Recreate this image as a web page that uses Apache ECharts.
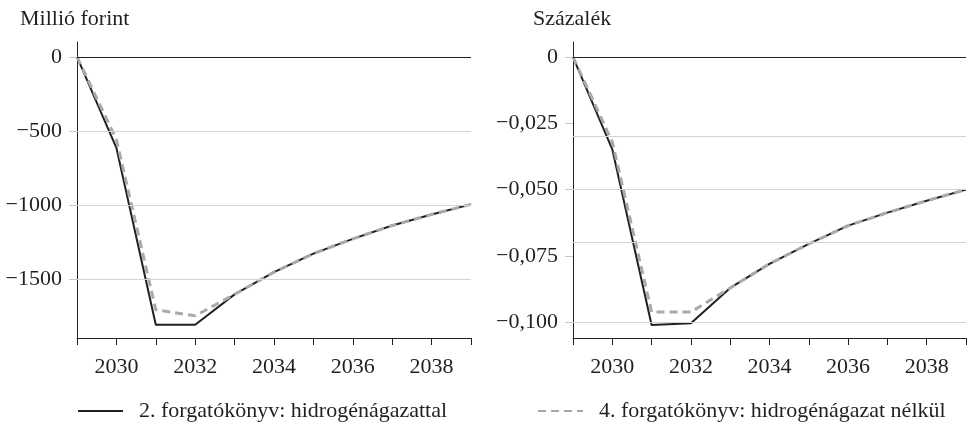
<!DOCTYPE html>
<html>
<head>
<meta charset="utf-8">
<script src="https://cdn.jsdelivr.net/npm/echarts@6/dist/echarts.min.js"></script>
<style>
  html, body { margin: 0; padding: 0; background: #fff; }
  #main { width: 970px; height: 425px; }
</style>
</head>
<body>
<div id="main"></div>
<script>
// évek
var years = [2029, 2030, 2031, 2032, 2033, 2034, 2035, 2036, 2037, 2038, 2039];

// bal panel: millió forint
var huf2 = [0, -615, -1810, -1810, -1605, -1455, -1330, -1230, -1140, -1065, -997];
var huf4 = [0, -560, -1710, -1750, -1605, -1455, -1330, -1230, -1140, -1065, -997];
var hufTicks = [0, -500, -1000, -1500];

// jobb panel: százalék
var pct2 = [0, -0.0348, -0.1011, -0.1004, -0.0871, -0.0780, -0.0705, -0.0636, -0.0587, -0.0542, -0.0500];
var pct4 = [0, -0.0320, -0.0962, -0.0962, -0.0871, -0.0780, -0.0705, -0.0636, -0.0587, -0.0542, -0.0500];
var pctTicks = [0, -0.025, -0.05, -0.075, -0.1];

var name2 = '2. forgatókönyv: hidrogénágazattal';
var name4 = '4. forgatókönyv: hidrogénágazat nélkül';

var FONT = 'Liberation Serif';
var FS = 22;
var TXT = '#231f20';

function pairs(vals) {
  return years.map(function (y, i) { return [y, vals[i]]; });
}

function gridLines(ticks) {
  return {
    silent: true,
    symbol: 'none',
    animation: false,
    label: { show: false },
    data: ticks.map(function (v) {
      return {
        yAxis: v,
        lineStyle: { color: v === 0 ? '#231f20' : '#d4d4d4', width: 1, type: 'solid' }
      };
    })
  };
}

function fmtHuf(v) {
  return v === 0 ? '0' : '\u2212' + Math.abs(v);
}
function fmtPct(v) {
  return v === 0 ? '0' : '\u2212' + Math.abs(v).toFixed(3).replace('.', ',');
}

function xAxis(idx) {
  return {
    type: 'value', gridIndex: idx, min: 2029, max: 2039, interval: 1,
    axisLine: { onZero: false, lineStyle: { color: '#231f20', width: 1 } },
    axisTick: { length: 7, lineStyle: { color: '#231f20' } },
    splitLine: { show: false },
    axisLabel: {
      margin: 18, color: TXT, fontFamily: FONT, fontSize: FS,
      formatter: function (v) { return v % 2 === 0 ? String(v) : ''; }
    }
  };
}

function yAxis(idx, min, max, ticks, fmt) {
  return {
    type: 'value', gridIndex: idx, min: min, max: max,
    axisLine: { show: true, lineStyle: { color: '#231f20', width: 1 } },
    axisTick: { show: true, length: 8, customValues: ticks, lineStyle: { color: '#c8c8c8' } },
    splitLine: { show: false },
    axisLabel: {
      margin: 15, color: TXT, fontFamily: FONT, fontSize: FS,
      customValues: ticks, formatter: fmt
    }
  };
}

function legend(name, left) {
  return {
    data: [name], left: left, top: 400, padding: 0,
    itemWidth: 45, itemHeight: 14, itemGap: 0,
    itemStyle: { opacity: 0 },
    textStyle: { fontFamily: FONT, fontSize: FS, color: TXT, padding: [0, 0, 0, 11] }
  };
}

var chart = echarts.init(document.getElementById('main'));

var option = {
  animation: false,
  backgroundColor: '#fff',
  title: [
    { text: 'Millió forint', left: 20, top: 8, padding: 0, textStyle: { fontFamily: FONT, fontSize: FS, fontWeight: 'normal', color: TXT } },
    { text: 'Százalék', left: 533, top: 8, padding: 0, textStyle: { fontFamily: FONT, fontSize: FS, fontWeight: 'normal', color: TXT } }
  ],
  legend: [legend(name2, 77), legend(name4, 537)],
  grid: [
    { left: 77, width: 394, top: 42, bottom: 87 },
    { left: 573, width: 393, top: 42, bottom: 87 }
  ],
  xAxis: [xAxis(0), xAxis(1)],
  yAxis: [
    yAxis(0, -1900, 100, hufTicks, fmtHuf),
    yAxis(1, -0.106, 0.0057, pctTicks, fmtPct)
  ],
  series: [
    {
      name: name2, type: 'line', xAxisIndex: 0, yAxisIndex: 0,
      data: pairs(huf2), symbol: 'none', z: 3,
      lineStyle: { color: '#231f20', width: 2 }, itemStyle: { color: '#231f20' },
      markLine: gridLines(hufTicks)
    },
    {
      name: name4, type: 'line', xAxisIndex: 0, yAxisIndex: 0,
      data: pairs(huf4), symbol: 'none', z: 4,
      lineStyle: { color: '#a9a9a9', width: 3, type: [8, 5] }, itemStyle: { color: '#a9a9a9' }
    },
    {
      name: name2, type: 'line', xAxisIndex: 1, yAxisIndex: 1,
      data: pairs(pct2), symbol: 'none', z: 3,
      lineStyle: { color: '#231f20', width: 2 }, itemStyle: { color: '#231f20' },
      markLine: gridLines(pctTicks)
    },
    {
      name: name4, type: 'line', xAxisIndex: 1, yAxisIndex: 1,
      data: pairs(pct4), symbol: 'none', z: 4,
      lineStyle: { color: '#a9a9a9', width: 3, type: [8, 5] }, itemStyle: { color: '#a9a9a9' }
    }
  ]
};

chart.setOption(option);
</script>
</body>
</html>
